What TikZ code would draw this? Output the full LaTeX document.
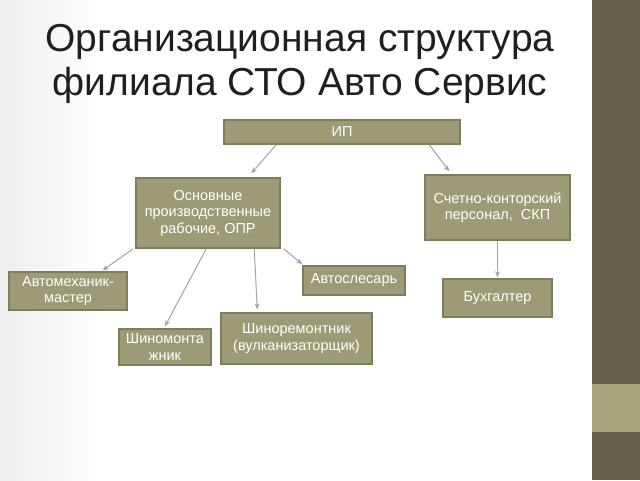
\documentclass[tikz,border=0pt]{standalone}
\usepackage{fontspec}
\setmainfont{Liberation Sans}
\usetikzlibrary{calc,arrows.meta}
\definecolor{boxfill}{HTML}{9D9B75}
\definecolor{boxline}{HTML}{7E7C5B}
\definecolor{band}{HTML}{655E48}
\definecolor{bandlight}{HTML}{A8A67E}
\definecolor{arr}{HTML}{A3A3A3}
\tikzset{
  orgbox/.style={draw=boxline, line width=1.5pt, fill=boxfill, text=white, font=\fontsize{14.5}{16.5}\selectfont, align=center, inner sep=0pt},
  link/.style={draw=arr, line width=1pt, -{Stealth[length=6pt,width=5pt]}},
  heading/.style={font=\fontsize{39}{44}\selectfont, text=black!88, align=center}
}
\begin{document}
\begin{tikzpicture}[x=1pt,y=-1pt]
\useasboundingbox (0,0) rectangle (640,480);
\fill[white] (0,0) rectangle (640,480);
\shade[left color=black!7, right color=white] (0,0) rectangle (100,480);
\fill[band] (592,0) rectangle (640,480);
\fill[bandlight] (592,384) rectangle (640,432);

\node[heading] (title) at (300,64) {Организационная структура\\филиала СТО Авто Сервис};

\node[orgbox, minimum width=236pt, minimum height=24pt] (ip) at (342,132) {ИП};
\node[orgbox, minimum width=144pt, minimum height=70pt] (opr) at (208,213) {Основные\\производственные\\рабочие, ОПР};
\node[orgbox, minimum width=145pt, minimum height=65pt] (skp) at (497.5,207.5) {Счетно-конторский\\персонал,\ \ СКП};
\node[orgbox, minimum width=118pt, minimum height=38pt] (meh) at (68,291) {Автомеханик-\\мастер};
\node[orgbox, minimum width=102pt, minimum height=29pt] (sles) at (354,280.5) {Автослесарь};
\node[orgbox, minimum width=92pt, minimum height=36pt] (montazh) at (165,347) {Шиномонта\\жник};
\node[orgbox, minimum width=151pt, minimum height=51pt] (remont) at (296.5,338.5) {Шиноремонтник\\(вулканизаторщик)};
\node[orgbox, minimum width=109pt, minimum height=38pt] (buh) at (497.5,298) {Бухгалтер};

\draw[link] ($(ip.south west)+(53,0)$) -- ($(opr.north west)+(116,-4)$);
\draw[link] ($(ip.south west)+(206,0)$) -- ($(skp.north west)+(25,-3)$);
\draw[link] (skp.south) -- ($(buh.north)+(0,-1)$);
\draw[link] ($(opr.south west)+(-2,0)$) -- ($(meh.north east)+(-25,-1)$);
\draw[link] ($(opr.south west)+(71,0)$) -- ($(montazh.north)+(0,-2)$);
\draw[link] ($(opr.south west)+(119,0)$) -- ($(remont.north west)+(37,-3)$);
\draw[link] ($(opr.south east)+(3,0)$) -- ($(sles.north west)+(0,-1)$);
\end{tikzpicture}
\end{document}
